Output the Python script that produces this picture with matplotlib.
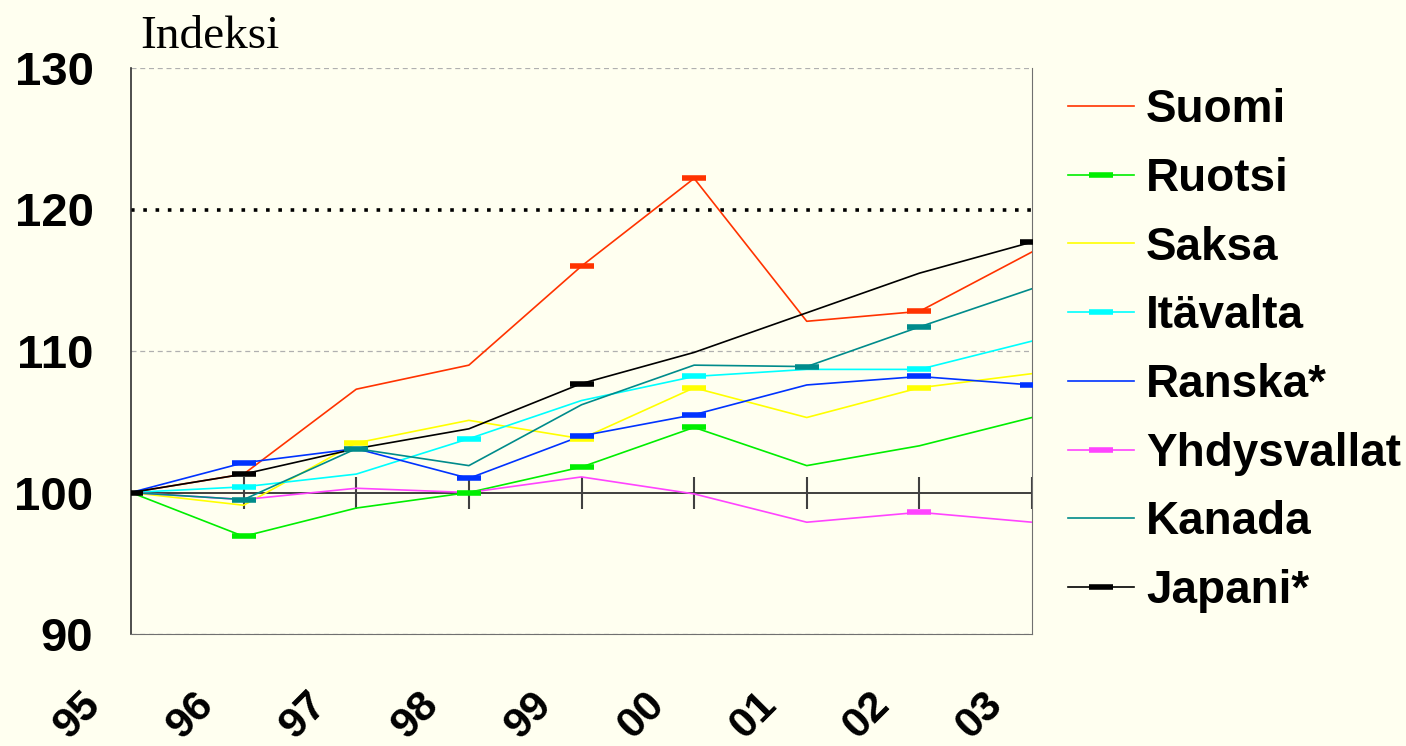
import matplotlib.pyplot as plt
from matplotlib.lines import Line2D
import matplotlib.transforms as mtransforms

years = ['95', '96', '97', '98', '99', '00', '01', '02', '03']

suomi = [100, 101.3, 107.3, 109.0, 116.0, 122.2, 112.1, 112.8, 117.0]
ruotsi = [100, 96.9, 98.9, 100.0, 101.8, 104.6, 101.9, 103.3, 105.3]
saksa = [100, 99.1, 103.5, 105.1, 103.8, 107.4, 105.3, 107.4, 108.4]
itavalta = [100, 100.4, 101.3, 103.8, 106.5, 108.2, 108.7, 108.7, 110.7]
ranska = [100, 102.1, 103.1, 101.0, 104.0, 105.5, 107.6, 108.2, 107.6]
usa = [100, 99.5, 100.3, 100.0, 101.1, 99.9, 97.9, 98.6, 97.9]
kanada = [100, 99.5, 103.1, 101.9, 106.2, 109.0, 108.9, 111.7, 114.4]
japani = [100, 101.3, 103.1, 104.5, 107.7, 109.9, 112.7, 115.5, 117.7]

names = ['Suomi', 'Ruotsi', 'Saksa', 'Itävalta', 'Ranska*', 'Yhdysvallat', 'Kanada', 'Japani*']
series = [suomi, ruotsi, saksa, itavalta, ranska, usa, kanada, japani]
colors = ['#ff3300', '#00ee00', '#ffff00', '#00ffff', '#0033ff', '#ff44ff', '#008b8b', '#000000']
# which points show the dash marker (as in the original)
marks = [[4, 5, 7], [1, 3, 4, 5], [2, 4, 5, 7], [1, 3, 5, 7],
         [1, 3, 4, 5, 7, 8], [7], [1, 2, 6, 7], [0, 1, 4, 8]]
legend_marker = [False, True, False, True, False, True, False, True]

bg = '#fffff0'
fig = plt.figure(figsize=(14.06, 7.46), dpi=100, facecolor=bg)
ax = fig.add_axes([131 / 1406, 1 - 634 / 746, 901 / 1406, 566 / 746])
ax.set_facecolor(bg)

x = list(range(len(years)))

for v in [90, 110, 130]:
    ax.axhline(v, color='#b0b0b0', lw=0.9, ls=(0, (4, 3)), zorder=1)
ax.axhline(120, color='black', lw=2.6, ls=(0, (1, 2.4)), zorder=2)
ax.axhline(100, color='#303030', lw=1.3, zorder=2)
ax.plot(x[1:], [100] * (len(x) - 1), ls='none', marker='|', ms=23, mew=1.5,
        color='#404040', zorder=2)

for vals, c, m in zip(series, colors, marks):
    ax.plot(x, vals, color=c, lw=1.2, zorder=3)
    ax.plot([x[i] for i in m], [vals[i] for i in m], ls='none', marker='_',
            ms=17, mew=4, color=c, zorder=4)

ax.set_xlim(0, 8)
ax.set_ylim(90, 130)
ax.set_yticks([90, 100, 110, 120, 130])
ax.set_xticks(x)
ax.set_xticklabels(years)

ax.spines['top'].set_visible(False)
ax.spines['left'].set_color('#303030')
ax.spines['left'].set_linewidth(1.2)
ax.spines['right'].set_color('#707070')
ax.spines['bottom'].set_color('#707070')

ax.tick_params(axis='both', length=0)
ax.tick_params(axis='y', pad=27)
ax.tick_params(axis='x', pad=36)
for lab in ax.get_yticklabels():
    lab.set_fontfamily('Liberation Sans')
    lab.set_fontweight('bold')
    lab.set_fontsize(34)
off = mtransforms.ScaledTranslation(-22 / 100, 0, fig.dpi_scale_trans)
for lab in ax.get_xticklabels():
    lab.set_fontfamily('Liberation Sans')
    lab.set_fontweight('bold')
    lab.set_fontsize(31)
    lab.set_rotation(45)
    lab.set_ha('right')
    lab.set_va('top')
    lab.set_transform(lab.get_transform() + off)

fig.text(140 / 1406, 1 - 48 / 746, 'Indeksi', family='Liberation Serif', fontsize=34,
         ha='left', va='baseline')

handles = []
for c, lm in zip(colors, legend_marker):
    if lm:
        handles.append(Line2D([], [], color=c, lw=1.2, marker='_', ms=17, mew=4))
    else:
        handles.append(Line2D([], [], color=c, lw=1.2))
leg = fig.legend(handles, names, loc='upper left', bbox_to_anchor=(1068 / 1406, 1 - 88 / 746),
                 frameon=False, borderpad=0, borderaxespad=0, handlelength=1.45,
                 handletextpad=0.25, labelspacing=0.54,
                 prop={'family': 'Liberation Sans', 'weight': 'bold', 'size': 33})

fig.savefig('out.png', dpi=100, facecolor=bg)
